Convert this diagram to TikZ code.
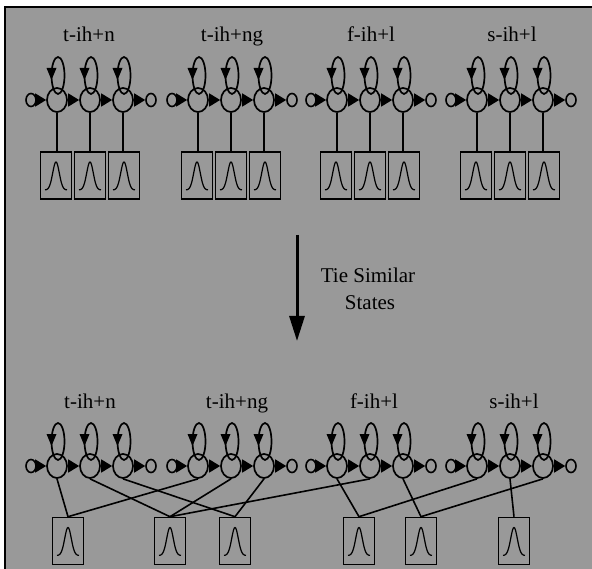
\documentclass[tikz,border=0pt]{standalone}
\usepackage{fontspec}
\setmainfont{Liberation Serif}
\usetikzlibrary{arrows.meta,shapes.geometric}
\definecolor{bg}{rgb}{0.6,0.6,0.6}
\tikzset{
  state/.style={draw, ellipse, line width=1.7pt, minimum width=20pt, minimum height=24pt, inner sep=0pt},
  term/.style={draw, ellipse, line width=1.6pt, minimum width=10pt, minimum height=13pt, inner sep=0pt},
  pdfbox/.style={draw, rectangle, line width=1.6pt, minimum width=31pt, minimum height=47pt, inner sep=0pt},
  trans/.style={line width=1.6pt, -{Triangle[length=11pt,width=13pt]}},
  tie/.style={line width=1.6pt},
  loopline/.style={line width=1.7pt},
  gline/.style={line width=1.2pt},
  lbl/.style={font=\fontsize{21}{25}\selectfont, anchor=base, inner sep=0pt},
}
\begin{document}
\begin{tikzpicture}[x=1pt,y=-1pt]
\useasboundingbox (0,0) rectangle (592,569);
\fill[bg] (5,7) rectangle (592,569);
\draw[line width=2pt] (5,569) -- (5,7) -- (592,7);

% labels
\node[lbl] (LT1) at (89,42) {t-ih+n};
\node[lbl] (LT2) at (232,42) {t-ih+ng};
\node[lbl] (LT3) at (371,42) {f-ih+l};
\node[lbl] (LT4) at (512,42) {s-ih+l};
\node[lbl] (LB1) at (90,408) {t-ih+n};
\node[lbl] (LB2) at (237,408) {t-ih+ng};
\node[lbl] (LB3) at (374,408) {f-ih+l};
\node[lbl] (LB4) at (514,408) {s-ih+l};

% HMM models
\foreach \g/\m in {1/90,2/231,3/370,4/510} {
  \foreach \r/\y in {T/100,B/466} {
    \node[term] (\r\g-i) at ({\m-59},\y) {};
    \node[term] (\r\g-o) at ({\m+61},\y) {};
    \foreach \k/\dx in {1/-33,2/0,3/33} {
      \node[state] (\r\g-s\k) at ({\m+(\dx)},\y) {};
      \draw[loopline] ([xshift=1pt,yshift=24.5pt]\r\g-s\k.center) ellipse [x radius=6.5, y radius=18.5];
      \fill ([xshift=-5.5pt,yshift=20pt]\r\g-s\k.center) -- ++(-5,-12) -- ++(10,0) -- cycle;
    }
    \draw[trans] (\r\g-i) -- (\r\g-s1);
    \draw[trans] (\r\g-s1) -- (\r\g-s2);
    \draw[trans] (\r\g-s2) -- (\r\g-s3);
    \draw[trans] (\r\g-s3) -- (\r\g-o);
  }
  % top output boxes
  \foreach \k/\dx in {1/-34,2/0,3/34} {
    \node[pdfbox] (T\g-b\k) at ({\m+(\dx)},175.5) {};
    \draw[gline, shift={(T\g-b\k.center)}] plot[domain=-11:11, samples=41, smooth] (\x, {14.5-28*exp(-(\x)^2/21.8)});
    \draw[tie] (T\g-s\k.south) -- (T\g-s\k.south |- T\g-b\k.north);
  }
}

% bottom tied boxes
\foreach \n/\bx in {bA/68,bB/170,bC/235,bD/359,bE/421,bF/514} {
  \node[pdfbox] (\n) at (\bx,541) {};
  \draw[gline, shift={(\n.center)}] plot[domain=-11:11, samples=41, smooth] (\x, {14.5-28*exp(-(\x)^2/21.8)});
}
\foreach \s/\b in {B1-s1/bA, B2-s1/bA, B1-s2/bB, B2-s2/bB, B3-s2/bB, B1-s3/bC, B2-s3/bC, B3-s1/bD, B4-s1/bD, B3-s3/bE, B4-s3/bE, B4-s2/bF}
  \draw[tie] (\s.south) -- (\b.north);

% middle arrow and text
\coordinate (arT) at (297,235);
\coordinate (arB) at (297,341);
\draw[line width=3pt, -{Triangle[length=25pt,width=15pt]}] (arT) -- (arB);
\node[lbl] (tie1) at (368,283) {Tie Similar};
\node[lbl] (tie2) at (370,310) {States};
\end{tikzpicture}
\end{document}
